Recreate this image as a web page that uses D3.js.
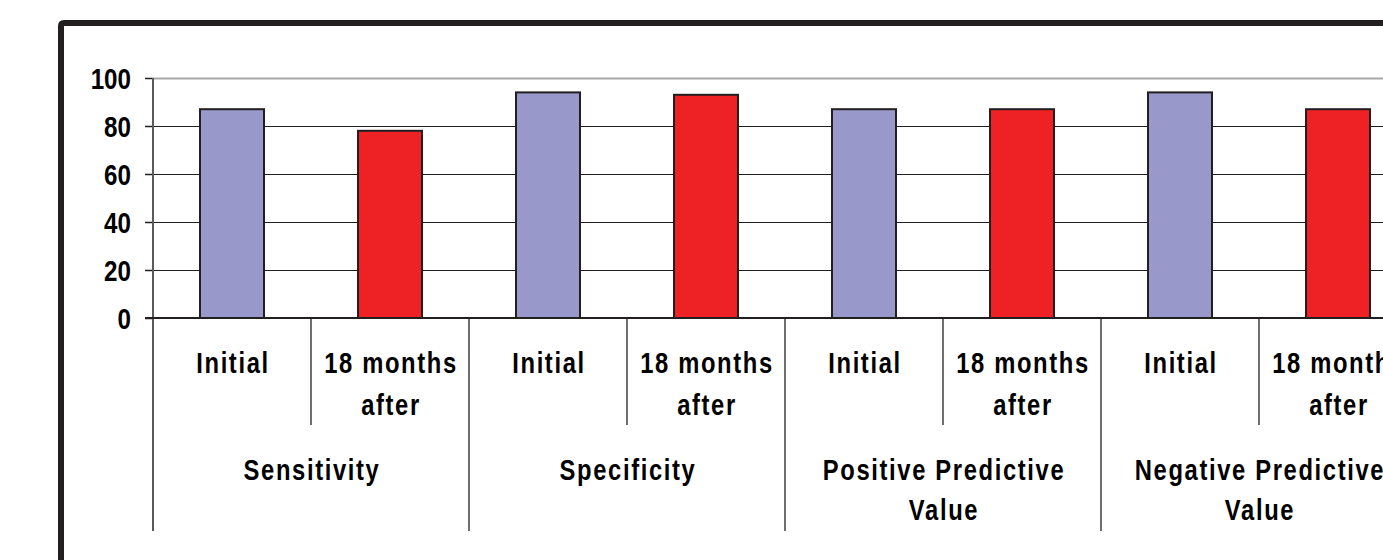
<!DOCTYPE html>
<html>
<head>
<meta charset="utf-8">
<script src="https://cdn.jsdelivr.net/npm/d3@7"></script>
<style>
  html, body { margin: 0; padding: 0; background: #fff; overflow: hidden; }
  svg { display: block; }
  text { font-family: "Liberation Sans", Arial, sans-serif; font-weight: bold; fill: #000; }
</style>
</head>
<body>
<svg id="chart" width="1383" height="560"></svg>
<script>
// Measures, each shown at two time points
const groups = ["Sensitivity", "Specificity", "Positive Predictive Value", "Negative Predictive Value"];
const groupLabelLines = [["Sensitivity"], ["Specificity"], ["Positive Predictive", "Value"], ["Negative Predictive", "Value"]];
const periods = ["Initial", "18 months after"];
const periodLabelLines = [["Initial"], ["18 months", "after"]];
const initialValues = [87, 94, 87, 94];
const afterValues = [78, 93, 87, 87];
const yTicks = [0, 20, 40, 60, 80, 100];
const periodColors = ["#9898ca", "#ee2224"];

const svg = d3.select("#chart");
const ink = "#231f20";
const squeeze = 0.82;

// outer frame (runs past the right and bottom edges)
svg.append("path")
  .attr("d", "M61,600 V26 Q61,23 64,23 H1420")
  .attr("fill", "none").attr("stroke", ink).attr("stroke-width", 6);

const plotLeft = 153, plotTop = 78, plotBottom = 318;
const groupWidth = 316;
const x = d3.scaleBand().domain(groups).range([plotLeft, plotLeft + groupWidth * groups.length]).padding(0);
const xSub = d3.scaleBand().domain(periods).range([0, x.bandwidth()]).padding(0);
const barW = xSub.bandwidth() * 0.405;
const y = d3.scaleLinear().domain([0, 100]).range([plotBottom, plotTop]);

// gridlines
svg.append("g").selectAll("line").data(yTicks.filter(t => t > 0)).join("line")
  .attr("x1", plotLeft).attr("x2", 1420)
  .attr("y1", d => Math.round(y(d)) + 0.5).attr("y2", d => Math.round(y(d)) + 0.5)
  .attr("stroke", d => d === 100 ? "#a7a7a9" : ink)
  .attr("stroke-width", d => d === 100 ? 2 : 1.2);

// bars
const rows = groups.map((g, i) => [
  { group: g, period: periods[0], value: initialValues[i] },
  { group: g, period: periods[1], value: afterValues[i] }
]).flat();

svg.append("g").selectAll("rect").data(rows).join("rect")
  .attr("x", d => x(d.group) + xSub(d.period) + (xSub.bandwidth() - barW) / 2)
  .attr("y", d => y(d.value))
  .attr("width", barW)
  .attr("height", d => y(0) - y(d.value))
  .attr("fill", d => periodColors[periods.indexOf(d.period)])
  .attr("stroke", ink).attr("stroke-width", 2);

// y axis
const yAxis = d3.axisLeft(y).tickValues(yTicks).tickSize(8).tickPadding(0).tickFormat(d3.format("d"));
const ga = svg.append("g").attr("transform", `translate(${plotLeft},0)`).call(yAxis);
ga.select(".domain").remove();
ga.selectAll(".tick line").attr("stroke", ink).attr("stroke-width", 1.5);
ga.selectAll(".tick text").remove();
ga.selectAll(".tick").append("text")
  .attr("transform", `translate(-22,10) scale(${squeeze},1)`)
  .attr("text-anchor", "end")
  .style("font-size", "29.5px")
  .text(d => d);

// y axis line continuing down as the left category divider
svg.append("line").attr("x1", plotLeft).attr("x2", plotLeft).attr("y1", plotTop).attr("y2", 531)
  .attr("stroke", "#5a5a5a").attr("stroke-width", 2);
// x axis line
svg.append("line").attr("x1", plotLeft - 8).attr("x2", 1420).attr("y1", plotBottom).attr("y2", plotBottom)
  .attr("stroke", ink).attr("stroke-width", 2);

// category dividers
groups.forEach(g => {
  svg.append("line")
    .attr("x1", x(g) + xSub(periods[1])).attr("x2", x(g) + xSub(periods[1]))
    .attr("y1", plotBottom).attr("y2", 425)
    .attr("stroke", ink).attr("stroke-width", 1.3);
  svg.append("line")
    .attr("x1", x(g) + x.bandwidth()).attr("x2", x(g) + x.bandwidth())
    .attr("y1", plotBottom).attr("y2", 531)
    .attr("stroke", ink).attr("stroke-width", 1.3);
});

function label(cx, lines, baseline, lineGap) {
  lines.forEach((t, k) => {
    svg.append("text")
      .attr("transform", `translate(${cx + 1},${baseline + k * lineGap}) scale(${squeeze},1)`)
      .attr("text-anchor", "middle")
      .style("font-size", "29px")
      .style("letter-spacing", "2px")
      .text(t);
  });
}

// period labels
groups.forEach(g => {
  periods.forEach((p, j) => {
    label(x(g) + xSub(p) + xSub.bandwidth() / 2, periodLabelLines[j], 373, 42);
  });
});
// group labels
groups.forEach((g, i) => {
  label(x(g) + x.bandwidth() / 2, groupLabelLines[i], 480, 40);
});
</script>
</body>
</html>
